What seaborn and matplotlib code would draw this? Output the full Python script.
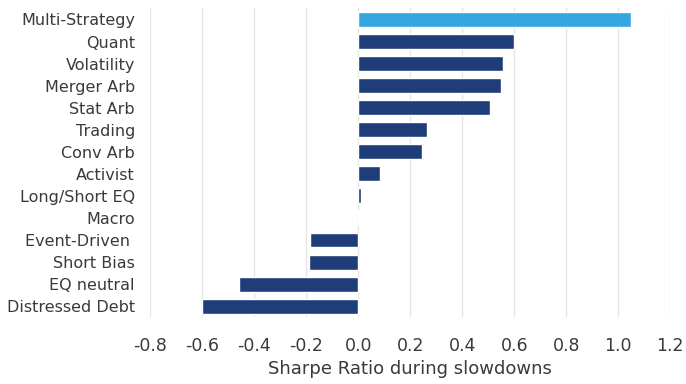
import matplotlib
matplotlib.use("Agg")
import matplotlib.pyplot as plt
import seaborn as sns
import pandas as pd

strategies = ["Multi-Strategy", "Quant", "Volatility", "Merger Arb", "Stat Arb",
              "Trading", "Conv Arb", "Activist", "Long/Short EQ", "Macro",
              "Event-Driven ", "Short Bias", "EQ neutral", "Distressed Debt"]
sharpe = [1.05, 0.60, 0.555, 0.55, 0.505, 0.265, 0.245, 0.085, 0.01, 0.004,
          -0.185, -0.19, -0.46, -0.60]
highlight = "Multi-Strategy"
x_ticks = [-0.8, -0.6, -0.4, -0.2, 0.0, 0.2, 0.4, 0.6, 0.8, 1.0, 1.2]

navy = "#1f3d78"
sky = "#35a6e0"
text_col = "#3a3a3a"

df = pd.DataFrame({"strategy": strategies, "sharpe": sharpe})
palette = {s: (sky if s == highlight else navy) for s in strategies}

sns.set_theme(style="white")
plt.rcParams["font.family"] = ["DejaVu Sans"]

fig = plt.figure(figsize=(6.86, 3.84), dpi=100)
ax = fig.add_axes([0.219, 0.174, 0.758, 0.804])

sns.barplot(data=df, x="sharpe", y="strategy", hue="strategy", palette=palette,
            order=strategies, width=0.68, legend=False, ax=ax, saturation=1)

ax.set_xlim(-0.8, 1.2)
ax.set_xticks(x_ticks)
ax.set_xticklabels([f"{t:.1f}" for t in x_ticks], fontsize=12.5, color=text_col)
ax.tick_params(axis="y", labelsize=11.5, labelcolor=text_col, length=0, pad=11)
ax.tick_params(axis="x", length=0, pad=14)
ax.xaxis.grid(True, color="#e6e6e6", linewidth=1)
ax.set_axisbelow(True)
for sp in ax.spines.values():
    sp.set_visible(False)
ax.set_ylabel("")
ax.set_xlabel("Sharpe Ratio during slowdowns", fontsize=13, color=text_col, labelpad=4)

fig.savefig("out.png", dpi=100)
